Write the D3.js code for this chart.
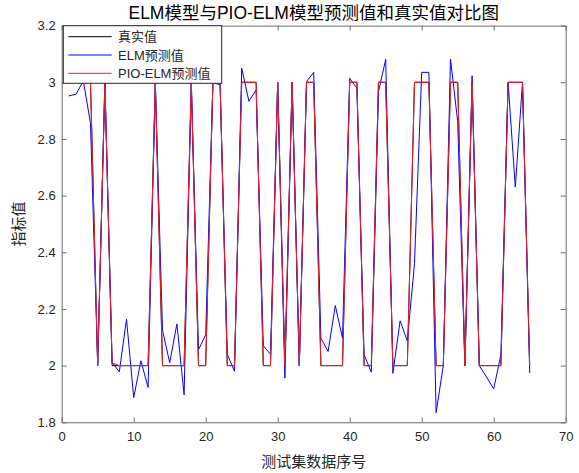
<!DOCTYPE html>
<html>
<head>
<meta charset="utf-8">
<script src="https://cdn.jsdelivr.net/npm/d3@7/dist/d3.min.js"></script>
<style>
  html, body { margin: 0; padding: 0; background: #fff; }
  svg { display: block; }
  text { font-family: "Liberation Sans", Arial, "Noto Sans CJK SC", sans-serif; }
</style>
</head>
<body>
<svg id="chart" width="579" height="473"></svg>
<script>
// ---------- data ----------
const titleText = "ELM模型与PIO-ELM模型预测值和真实值对比图";
const xLabel = "测试集数据序号";
const yLabel = "指标值";
const seriesNames = ["真实值", "ELM预测值", "PIO-ELM预测值"];

const xTicks = [0, 10, 20, 30, 40, 50, 60, 70];
const xTickLabels = ["0", "10", "20", "30", "40", "50", "60", "70"];
const yTicks = [1.8, 2, 2.2, 2.4, 2.6, 2.8, 3, 3.2];
const yTickLabels = ["1.8", "2", "2.2", "2.4", "2.6", "2.8", "3", "3.2"];

const trueValues = [
  3, 3, 3, 3, 2, 3, 2, 2, 2, 2,
  2, 2, 3, 2, 2, 2, 2, 3, 2, 2,
  3, 3, 2, 2, 3, 3, 3, 2, 2, 3,
  2, 3, 2, 3, 3, 2, 2, 2, 2, 3,
  3, 2, 2, 3, 3, 2, 2, 2, 3, 3,
  3, 2, 2, 3, 3, 2, 3, 2, 2, 2,
  2, 3, 3, 3, 2
];

const elmValues = [
  2.952, 2.958, 3.005, 2.855, 2.005, 3.0, 2.012, 1.978, 2.164, 1.887,
  2.017, 1.923, 3.0, 2.125, 2.01, 2.147, 1.897, 3.0, 2.056, 2.109,
  3.0, 2.99, 2.04, 1.98, 3.05, 2.933, 2.973, 2.07, 2.04, 3.0,
  1.956, 3.0, 2.0, 3.002, 3.035, 2.097, 2.05, 2.212, 2.097, 3.014,
  2.979, 2.038, 1.977, 2.967, 3.081, 1.973, 2.158, 2.087, 2.36, 3.035,
  3.035, 1.834, 2.0, 3.082, 2.861, 2.0, 3.023, 2.0, 1.96, 1.918,
  2.038, 3.0, 2.63, 3.0, 1.974
];

const pioElmValues = [
  3, 3, 3, 3, 2, 3, 2.01, 2, 2, 2,
  2, 2, 3, 2, 2, 2, 2, 3, 2, 2,
  3, 3, 2, 2, 3, 3, 3, 2, 2, 3,
  2, 3, 2, 3, 3, 2, 2, 2, 2, 3,
  3, 2, 2, 3, 3, 2, 2, 2, 3, 3,
  3, 2, 2, 3, 3, 2, 3, 2, 2, 2,
  2, 3, 3, 3, 2
];

// ---------- layout ----------
const svg = d3.select("#chart");
const W = 579, H = 473;
const margin = { left: 61.7, top: 25.6, right: W - 565.7, bottom: H - 422.3 };
const iw = W - margin.left - margin.right;
const ih = H - margin.top - margin.bottom;

svg.append("rect").attr("width", W).attr("height", H).attr("fill", "#fff");

const x = d3.scaleLinear().domain([0, 70]).range([0, iw]);
const y = d3.scaleLinear().domain([1.8, 3.2]).range([ih, 0]);

const g = svg.append("g").attr("transform", `translate(${margin.left},${margin.top})`);

const axisColor = "#6b6b6b";
const textColor = "#262626";
const tickFont = 13;

function styleAxis(sel, showText) {
  sel.selectAll("path.domain").attr("stroke", axisColor).attr("stroke-width", 1);
  sel.selectAll(".tick line").attr("stroke", axisColor);
  sel.selectAll(".tick text")
    .attr("fill", textColor)
    .style("font-size", tickFont + "px")
    .style("display", showText ? null : "none");
}

g.append("g").attr("transform", `translate(0,${ih})`)
  .call(d3.axisBottom(x).tickValues(xTicks).tickFormat((d, i) => xTickLabels[i]).tickSizeInner(-5).tickSizeOuter(0).tickPadding(9))
  .call(s => styleAxis(s, true));
g.append("g")
  .call(d3.axisTop(x).tickValues(xTicks).tickFormat("").tickSizeInner(-5).tickSizeOuter(0))
  .call(s => styleAxis(s, false));
g.append("g")
  .call(d3.axisLeft(y).tickValues(yTicks).tickFormat((d, i) => yTickLabels[i]).tickSizeInner(-5).tickSizeOuter(0).tickPadding(6))
  .call(s => styleAxis(s, true));
g.append("g").attr("transform", `translate(${iw},0)`)
  .call(d3.axisRight(y).tickValues(yTicks).tickFormat("").tickSizeInner(-5).tickSizeOuter(0))
  .call(s => styleAxis(s, false));

// ---------- lines ----------
const idx = d3.range(1, trueValues.length + 1);
const line = d3.line().x((d, i) => x(idx[i])).y(d => y(d));

g.append("clipPath").attr("id", "clip")
  .append("rect").attr("width", iw).attr("height", ih);

const plot = g.append("g").attr("clip-path", "url(#clip)");
const colors = ["#000000", "#0000ff", "#f0202a"];
[trueValues, elmValues, pioElmValues].forEach((vals, k) => {
  plot.append("path")
    .datum(vals)
    .attr("d", line)
    .attr("fill", "none")
    .attr("stroke", colors[k])
    .attr("stroke-width", 1)
    .attr("stroke-linejoin", "round");
});

// ---------- legend ----------
const lg = svg.append("g");
const lx = 63.3, ly = 25.7, lw = 158.4, lh = 57.6;
lg.append("rect").attr("x", lx).attr("y", ly).attr("width", lw).attr("height", lh)
  .attr("fill", "#fff").attr("stroke", "#262626").attr("stroke-width", 1);
const rowY = [36.7, 55, 73.3];
seriesNames.forEach((name, i) => {
  lg.append("line")
    .attr("x1", 68.3).attr("x2", 111.7)
    .attr("y1", rowY[i]).attr("y2", rowY[i])
    .attr("stroke", colors[i]).attr("stroke-width", 1);
  lg.append("text")
    .attr("x", 118).attr("y", rowY[i])
    .attr("dy", "0.36em")
    .attr("fill", textColor)
    .style("font-size", "13px")
    .text(name);
});

// ---------- titles ----------
svg.append("text")
  .attr("x", margin.left + iw / 2).attr("y", 19)
  .attr("text-anchor", "middle")
  .attr("fill", "#000")
  .style("font-size", "17.5px")
  .text(titleText);

svg.append("text")
  .attr("x", margin.left + iw / 2).attr("y", 467)
  .attr("text-anchor", "middle")
  .attr("fill", textColor)
  .style("font-size", "15px")
  .text(xLabel);

svg.append("text")
  .attr("transform", `translate(24,${margin.top + ih / 2}) rotate(-90)`)
  .attr("text-anchor", "middle")
  .attr("fill", textColor)
  .style("font-size", "15px")
  .text(yLabel);
</script>
</body>
</html>
